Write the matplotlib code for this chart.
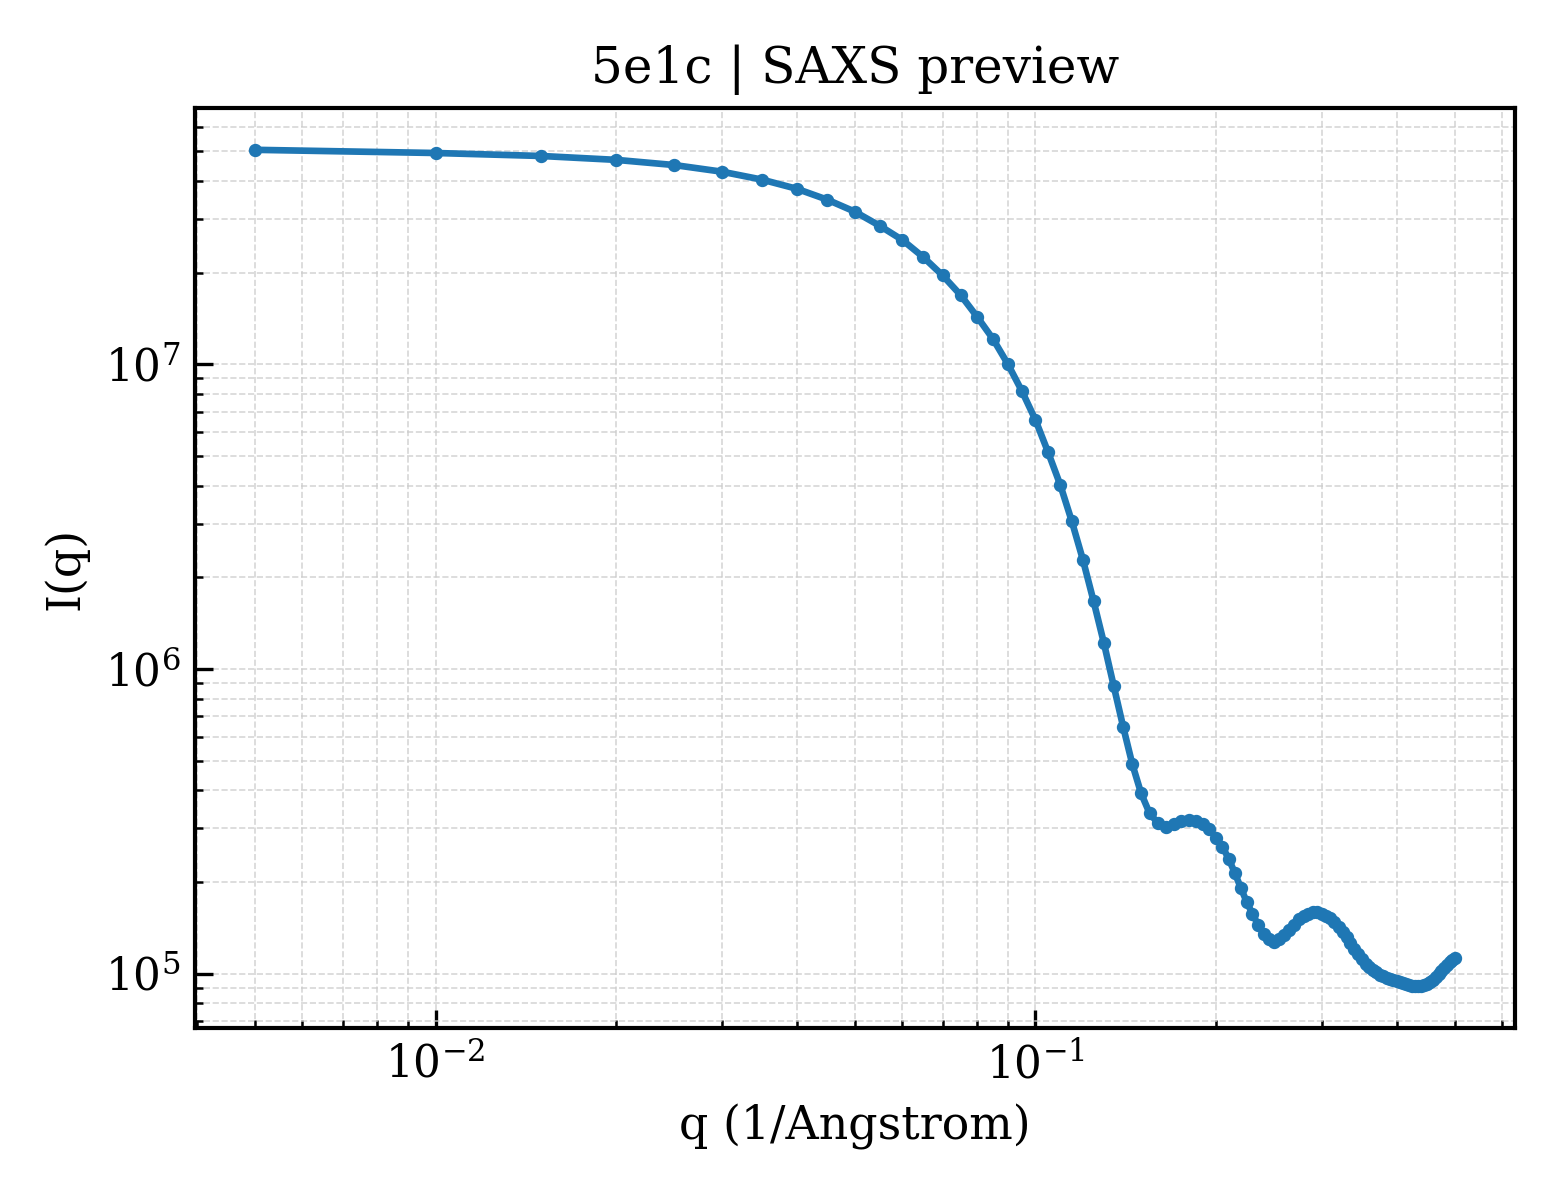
import numpy as np
import matplotlib
matplotlib.use("Agg")
import matplotlib.pyplot as plt

# q values (1/Angstrom), 0.005 .. 0.5 every 0.005
q = [0.005, 0.010, 0.015, 0.020, 0.025, 0.030, 0.035, 0.040, 0.045, 0.050,
     0.055, 0.060, 0.065, 0.070, 0.075, 0.080, 0.085, 0.090, 0.095, 0.100,
     0.105, 0.110, 0.115, 0.120, 0.125, 0.130, 0.135, 0.140, 0.145, 0.150,
     0.155, 0.160, 0.165, 0.170, 0.175, 0.180, 0.185, 0.190, 0.195, 0.200,
     0.205, 0.210, 0.215, 0.220, 0.225, 0.230, 0.235, 0.240, 0.245, 0.250,
     0.255, 0.260, 0.265, 0.270, 0.275, 0.280, 0.285, 0.290, 0.295, 0.300,
     0.305, 0.310, 0.315, 0.320, 0.325, 0.330, 0.335, 0.340, 0.345, 0.350,
     0.355, 0.360, 0.365, 0.370, 0.375, 0.380, 0.385, 0.390, 0.395, 0.400,
     0.405, 0.410, 0.415, 0.420, 0.425, 0.430, 0.435, 0.440, 0.445, 0.450,
     0.455, 0.460, 0.465, 0.470, 0.475, 0.480, 0.485, 0.490, 0.495, 0.500]

# intensity
intensity = [5.06e7, 4.94e7, 4.83e7, 4.69e7, 4.51e7, 4.29e7, 4.04e7, 3.77e7, 3.47e7, 3.17e7,
             2.85e7, 2.56e7, 2.25e7, 1.96e7, 1.69e7, 1.43e7, 1.21e7, 1.00e7, 8.15e6, 6.57e6,
             5.14e6, 4.02e6, 3.05e6, 2.28e6, 1.67e6, 1.22e6, 8.82e5, 6.47e5, 4.88e5, 3.91e5,
             3.36e5, 3.12e5, 3.02e5, 3.10e5, 3.17e5, 3.19e5, 3.18e5, 3.10e5, 2.98e5, 2.79e5,
             2.61e5, 2.38e5, 2.14e5, 1.91e5, 1.72e5, 1.57e5, 1.45e5, 1.35e5, 1.30e5, 1.27e5,
             1.30e5, 1.34e5, 1.39e5, 1.45e5, 1.51e5, 1.55e5, 1.57e5, 1.59e5, 1.59e5, 1.57e5,
             1.55e5, 1.52e5, 1.48e5, 1.42e5, 1.37e5, 1.32e5, 1.26e5, 1.21e5, 1.16e5, 1.12e5,
             1.08e5, 1.05e5, 1.03e5, 1.01e5, 9.94e4, 9.82e4, 9.71e4, 9.64e4, 9.56e4, 9.49e4,
             9.39e4, 9.29e4, 9.23e4, 9.16e4, 9.12e4, 9.10e4, 9.10e4, 9.12e4, 9.18e4, 9.27e4,
             9.40e4, 9.56e4, 9.76e4, 9.98e4, 1.02e5, 1.045e5, 1.07e5, 1.09e5, 1.11e5, 1.13e5]

plt.rcParams['font.family'] = 'DejaVu Serif'
plt.rcParams['mathtext.fontset'] = 'dejavuserif'

fig, ax = plt.subplots(figsize=(5.2, 4.0), dpi=300)
fig.subplots_adjust(left=0.125, right=0.971, top=0.91, bottom=0.1433)

ax.plot(q, intensity, '-o', color='#1f77b4', lw=1.6, ms=2.2)
ax.set_xscale('log')
ax.set_yscale('log')

ax.grid(True, which='both', ls='--', lw=0.4, color='#cccccc', alpha=0.8)
ax.tick_params(which='both', direction='in', labelsize=10.5)
ax.tick_params(which='major', length=4.3, width=0.8)
ax.tick_params(which='minor', length=2, width=0.6)
for s in ax.spines.values():
    s.set_linewidth(1.0)

ax.set_xlabel('q (1/Angstrom)', fontsize=11)
ax.set_ylabel('I(q)', fontsize=11)
ax.set_title('5e1c | SAXS preview', fontsize=12)

fig.savefig('out.png', dpi=300)
